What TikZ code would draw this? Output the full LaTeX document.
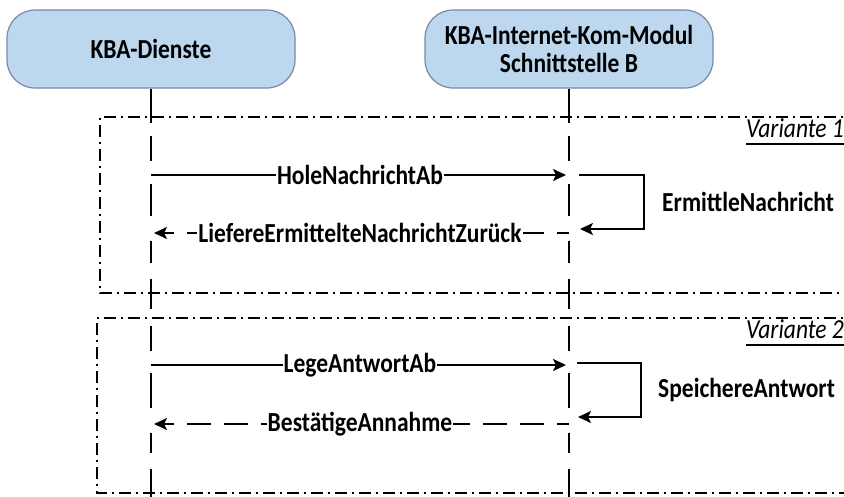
\documentclass[tikz,border=0pt]{standalone}
\usepackage{fontspec}
\usepackage{graphicx}
\setmainfont{Carlito}
\usetikzlibrary{arrows.meta,calc}
\definecolor{boxfill}{RGB}{189,215,238}
\definecolor{boxline}{RGB}{118,138,168}
\newcommand{\tallt}[1]{\scalebox{1}[1.17]{#1}}
\begin{document}
\begin{tikzpicture}[x=1pt,y=-1pt,
  actor/.style={draw=boxline, line width=1.2pt, fill=boxfill, rounded corners=28pt,
    minimum width=288pt, minimum height=78pt, align=center,
    font=\fontsize{23.5}{28}\selectfont\bfseries},
  lifeline/.style={line width=2pt, dash pattern=on 34pt off 13pt on 25pt off 23pt on 32pt off 25pt on 22pt off 16pt on 30pt off 17pt on 25pt off 22pt on 35pt off 25pt on 20pt off 16pt on 60pt},
  frameline/.style={line width=1.3pt, dash pattern=on 12pt off 5pt on 2pt off 5pt},
  msg/.style={line width=2.2pt, -{Stealth[length=13pt,width=12pt,inset=3pt]}},
  ret/.style={msg, dash pattern=on 24pt off 13pt, dash phase=12pt},
  msglabel/.style={fill=white, inner sep=1pt, font=\fontsize{23.5}{28}\selectfont\bfseries},
  sidelabel/.style={anchor=west, inner sep=0pt, font=\fontsize{23.5}{28}\selectfont\bfseries},
  varlabel/.style={anchor=base west, inner sep=0pt, font=\fontsize{23.5}{28}\selectfont\itshape},
]
\useasboundingbox (0,0) rectangle (844,496);

% frames
\draw[frameline] (860,117) -- (100,117) -- (100,293) -- (860,293);
\draw[frameline] (860,318) -- (97,318) -- (97,493) -- (860,493);
\node[varlabel] (v1) at (746,137) {\tallt{Variante 1}};
\draw[line width=1.3pt] ($(v1.base west)+(0,7)$) -- ($(v1.base east)+(0,7)$);
\node[varlabel] (v2) at (746,338) {\tallt{Variante 2}};
\draw[line width=1.3pt] ($(v2.base west)+(0,7)$) -- ($(v2.base east)+(0,7)$);

% actors
\node[actor] (b1) at (151,49) {\tallt{KBA-Dienste}};
\node[actor] (b2) at (569,49) {\tallt{KBA-Internet-Kom-Modul}\\\tallt{Schnittstelle B}};

% lifelines
\coordinate (bottom) at (0,520);
\draw[lifeline] (b1.south) -- (b1.south |- bottom);
\draw[lifeline] (b2.south) -- (b2.south |- bottom);

% Variante 1
\coordinate (m1) at (0,175);
\coordinate (l1) at (0,229);
\coordinate (r1) at (0,233);
\draw[msg, shorten >=3pt] (b1.south |- m1) -- node[msglabel] {\tallt{HoleNachrichtAb}} (b2.south |- m1);
\draw[msg] ($(b2.south |- m1)+(10,0)$) -| ($(b2.south |- l1)+(75,0)$) -- ($(b2.south |- l1)+(11,0)$);
\node[sidelabel] (s1) at (662,202) {\tallt{ErmittleNachricht}};
\draw[ret, shorten >=3pt] (b2.south |- r1) -- node[msglabel] {\tallt{LiefereErmittelteNachrichtZurück}} (b1.south |- r1);

% Variante 2
\coordinate (m2) at (0,365);
\coordinate (l2) at (0,417);
\coordinate (r2) at (0,424);
\draw[msg, shorten >=3pt] (b1.south |- m2) -- node[msglabel] {\tallt{LegeAntwortAb}} (b2.south |- m2);
\draw[msg] ($(b2.south |- m2)+(8,-2)$) -| ($(b2.south |- l2)+(72,0)$) -- ($(b2.south |- l2)+(9,0)$);
\node[sidelabel] (s2) at (658,390) {\tallt{SpeichereAntwort}};
\draw[ret, shorten >=3pt] (b2.south |- r2) -- node[msglabel] {\tallt{BestätigeAnnahme}} (b1.south |- r2);
\end{tikzpicture}
\end{document}
